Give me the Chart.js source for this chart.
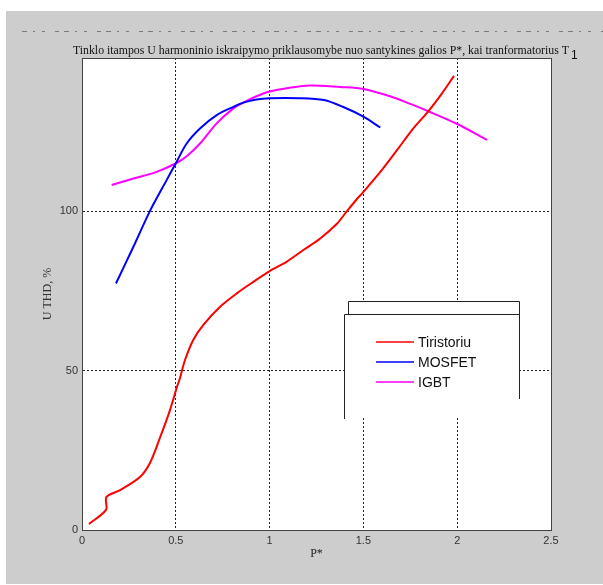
<!DOCTYPE html>
<html>
<head>
<meta charset="utf-8">
<script src="https://cdn.jsdelivr.net/npm/chart.js@4"></script>
<style>
  body { margin: 0; background: #fff; }
  canvas { display: block; }
</style>
</head>
<body>
<canvas id="thdChart" width="603" height="585"></canvas>
<script>
// chart texts
const titleText = "Tinklo itampos U harmoninio iskraipymo priklausomybe nuo santykines galios P*, kai tranformatorius T";
const titleSub = "1";
const xLabel = "P*";
const yLabel = "U THD, %";

// tick values
const xTicks = [0, 0.5, 1, 1.5, 2, 2.5];
const yTicks = [0, 50, 100];

// Tiristoriu
const tirX = [0.037, 0.128, 0.13, 0.203, 0.309, 0.362, 0.416, 0.469, 0.506, 0.522, 0.549, 0.593, 0.647, 0.736, 0.825, 0.913, 1.0, 1.09, 1.18, 1.27, 1.36, 1.41, 1.46, 1.5, 1.6, 1.683, 1.76, 1.846, 1.92, 1.983];
const tirY = [1.9, 6.3, 10.3, 12.5, 16.6, 21, 29, 37.6, 44.8, 47.6, 53.3, 59.6, 64.3, 70, 74.2, 77.8, 81.2, 84.1, 87.8, 91.4, 96.1, 99.8, 103.4, 106, 113, 119.4, 125.5, 131.3, 137, 142.4];

// MOSFET
const mosX = [0.181, 0.274, 0.362, 0.451, 0.501, 0.558, 0.629, 0.718, 0.807, 0.86, 0.93, 1.0, 1.16, 1.29, 1.39, 1.5, 1.59];
const mosY = [77.3, 88.8, 100, 109.7, 115.1, 121.2, 125.9, 130.1, 132.7, 134, 135, 135.4, 135.4, 134.8, 132.7, 129.6, 126.2];

// IGBT
const igbtX = [0.158, 0.274, 0.398, 0.501, 0.558, 0.629, 0.718, 0.807, 0.86, 0.93, 1.0, 1.1, 1.215, 1.375, 1.5, 1.642, 1.75, 1.846, 2.0, 2.16];
const igbtY = [108.2, 110.2, 112.3, 115, 117.2, 121.2, 127.5, 132.2, 134, 136, 137.5, 138.6, 139.4, 138.9, 138.3, 136, 133.6, 131.3, 127.3, 122.3];

function pts(xs, ys) {
    return xs.map((x, i) => ({ x: x, y: ys[i] }));
}

// gray figure, white axes, title and the faint cut-off text line
const framePlugin = {
    id: "frame",
    beforeDraw(chart) {
        const ctx = chart.ctx;
        const a = chart.chartArea;
        ctx.save();
        ctx.fillStyle = "#cdcdcd";
        ctx.fillRect(6, 11, 597, 573);
        ctx.fillStyle = "#fff";
        ctx.fillRect(a.left, a.top, a.right - a.left, a.bottom - a.top);

        ctx.strokeStyle = "#7a7a7a";
        ctx.lineWidth = 1;
        ctx.setLineDash([5, 6, 2, 7, 3, 10, 4, 5]);
        ctx.beginPath();
        ctx.moveTo(22, 31.5);
        ctx.lineTo(603, 31.5);
        ctx.stroke();
        ctx.setLineDash([]);

        ctx.font = '12px "Liberation Serif"';
        const w = ctx.measureText(titleText).width;
        const size = 12 * 496 / w;
        ctx.font = size.toFixed(2) + 'px "Liberation Serif"';
        ctx.fillStyle = "#111";
        ctx.textBaseline = "alphabetic";
        ctx.textAlign = "left";
        ctx.fillText(titleText, 73, 54);
        ctx.font = '12px "Liberation Sans"';
        ctx.fillText(titleSub, 571, 59);
        ctx.restore();
    },
    afterDatasetsDraw(chart) {
        const ctx = chart.ctx;
        const a = chart.chartArea;
        ctx.save();
        ctx.strokeStyle = "#444";
        ctx.lineWidth = 1;
        ctx.strokeRect(a.left + 0.5, a.top + 0.5, a.right - a.left, a.bottom - a.top);

        // legend boxes (as in the original, two offset boxes)
        ctx.fillStyle = "#fff";
        ctx.fillRect(348, 301, 171, 13);
        ctx.fillRect(344, 314, 175, 104);
        ctx.strokeStyle = "#222";
        ctx.beginPath();
        ctx.moveTo(348.5, 314); ctx.lineTo(348.5, 301.5); ctx.lineTo(519.5, 301.5); ctx.lineTo(519.5, 399);
        ctx.moveTo(344.5, 419); ctx.lineTo(344.5, 314.5); ctx.lineTo(519.5, 314.5);
        ctx.stroke();

        ctx.font = '14px "Liberation Sans"';
        ctx.textBaseline = "middle";
        ctx.textAlign = "left";
        chart.data.datasets.forEach((ds, i) => {
            const y = 342 + i * 20;
            ctx.strokeStyle = ds.borderColor;
            ctx.lineWidth = 1.5;
            ctx.beginPath();
            ctx.moveTo(376, y);
            ctx.lineTo(414, y);
            ctx.stroke();
            ctx.fillStyle = "#111";
            ctx.fillText(ds.label, 418, y + 1);
        });
        ctx.restore();
    }
};

new Chart(document.getElementById("thdChart"), {
    type: "line",
    data: {
        datasets: [{
            label: "Tiristoriu",
            data: pts(tirX, tirY),
            borderColor: "#ff0000"
        }, {
            label: "MOSFET",
            data: pts(mosX, mosY),
            borderColor: "#0000ff"
        }, {
            label: "IGBT",
            data: pts(igbtX, igbtY),
            borderColor: "#ff00ff"
        }]
    },
    options: {
        responsive: false,
        animation: false,
        layout: { padding: { left: 0, top: 58, right: 52, bottom: 0 } },
        elements: {
            point: { radius: 0 },
            line: { borderWidth: 2, tension: 0.3, fill: false }
        },
        plugins: {
            legend: { display: false },
            title: { display: false },
            tooltip: { enabled: false }
        },
        scales: {
            x: {
                type: "linear",
                min: 0,
                max: 2.5,
                afterBuildTicks: s => { s.ticks = xTicks.map(v => ({ value: v })); },
                afterFit: s => { s.height = 55; },
                grid: {
                    drawTicks: false,
                    color: c => (c.tick && c.tick.value > 0 && c.tick.value < 2.5) ? "#222" : "rgba(0,0,0,0)"
                },
                border: { display: true, color: "#444", width: 1, dash: [2, 2] },
                ticks: {
                    padding: 4,
                    color: "#333",
                    font: { family: "Liberation Sans", size: 11 },
                    maxRotation: 0,
                    callback: v => String(v)
                },
                title: {
                    display: true,
                    text: xLabel,
                    color: "#222",
                    font: { family: "Liberation Serif", size: 12 },
                    padding: { top: 0, bottom: 24 }
                }
            },
            y: {
                type: "linear",
                min: 0,
                max: 148,
                afterBuildTicks: s => { s.ticks = yTicks.map(v => ({ value: v })); },
                afterFit: s => { s.width = 82; },
                grid: {
                    drawTicks: false,
                    color: c => (c.tick && c.tick.value > 0 && c.tick.value < 148) ? "#222" : "rgba(0,0,0,0)"
                },
                border: { display: true, color: "#444", width: 1, dash: [2, 2] },
                ticks: {
                    padding: 4,
                    color: "#333",
                    font: { family: "Liberation Sans", size: 11 }
                },
                title: {
                    display: true,
                    text: yLabel,
                    color: "#333",
                    font: { family: "Liberation Serif", size: 12 },
                    padding: { top: 41, bottom: 0 }
                }
            }
        }
    },
    plugins: [framePlugin]
});
</script>
</body>
</html>
